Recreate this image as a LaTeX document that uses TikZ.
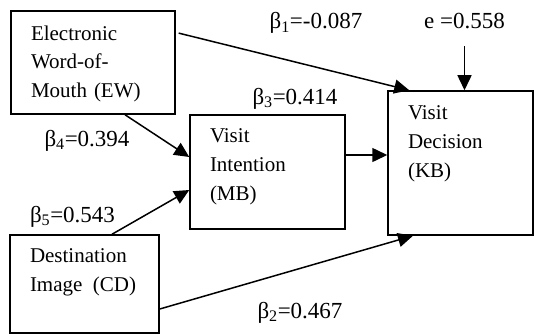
\documentclass[tikz,border=0pt]{standalone}
\usepackage{fontspec}
\setmainfont{Liberation Serif}
\usetikzlibrary{arrows.meta}

\begin{document}
\begin{tikzpicture}[x=1pt, y=-1pt, line width=1.5pt, >={Triangle[length=15pt,width=14pt]},
	box/.style={draw, rectangle, align=left, inner xsep=20pt, inner ysep=0pt, font=\fontsize{21}{28.75}\selectfont},
	coef/.style={anchor=base, inner sep=0pt, font=\fontsize{23}{28.75}\selectfont}]
	\useasboundingbox (0,0) rectangle (534,334);

	\node[box, text width=124pt, minimum height=103pt, text depth=59.5pt] (ew) at (93,62.5)  {Electronic\\Word-of-\\Mouth (EW)};
	\node[box, text width=115pt, minimum height=114pt, text depth=72.5pt] (mb) at (267.5,172) {Visit\\Intention\\(MB)};
	\node[box, text width=105pt, minimum height=144pt, text depth=100.5pt] (kb) at (460.5,163) {Visit\\Decision\\(KB)};
	\node[box, text width=109pt, minimum height=98pt, text depth=56.5pt] (cd) at (84.5,284)  {Destination\\Image~\,(CD)};

	\node[coef] (b1)  at (316,29)   {β\textsubscript{1}=-0.087};
	\node[coef] (err) at (464.5,29) {e =0.558};
	\node[coef] (b3)  at (295,104)  {β\textsubscript{3}=0.414};
	\node[coef] (b4)  at (87,146)   {β\textsubscript{4}=0.394};
	\node[coef] (b5)  at (72.5,222) {β\textsubscript{5}=0.543};
	\node[coef] (b2)  at (300,318)  {β\textsubscript{2}=0.467};

	\draw [arrows=->, shorten <=3pt] (ew.20) -- ([xshift=22pt]kb.north west);
	\draw [arrows=->, shorten <=16pt] (err.south) -- (err.south |- kb.north);
	\draw [arrows=->] ([xshift=32pt]ew.south) -- ([yshift=15pt]mb.west);
	\draw [arrows=->] ([yshift=17pt]mb.east) -- ([yshift=17pt]mb.east -| kb.west);
	\draw [arrows=->] ([xshift=27.5pt]cd.north) -- ([yshift=-18pt]mb.west);
	\draw [arrows=->] ([yshift=-25pt]cd.east) -- ([xshift=-47.5pt]kb.south);
\end{tikzpicture}
\end{document}
